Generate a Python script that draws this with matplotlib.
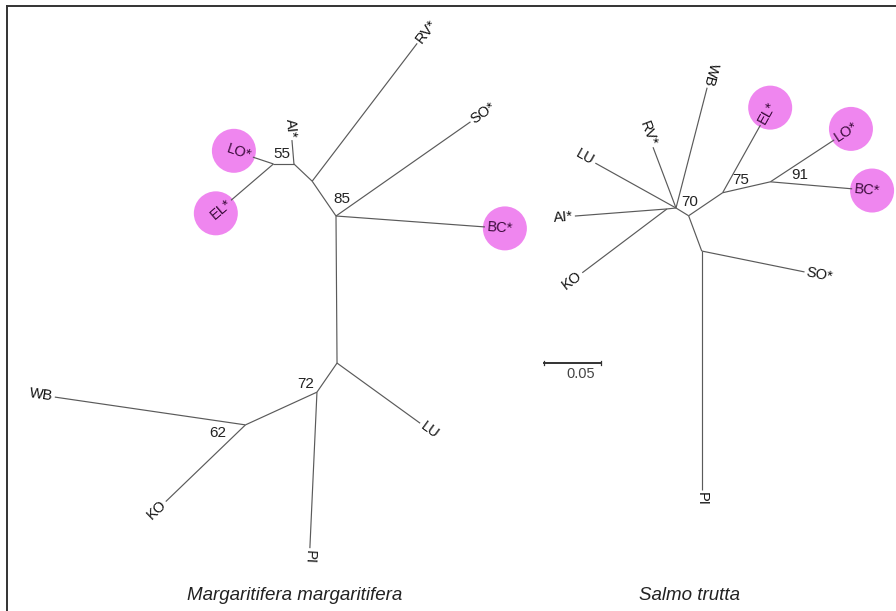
import numpy as np
import matplotlib
matplotlib.use("Agg")
import matplotlib.pyplot as plt
from matplotlib.patches import Circle
from matplotlib.lines import Line2D

plt.rcParams['font.family'] = ['Liberation Sans', 'DejaVu Sans']

# ---------------- data ----------------
# Margaritifera margaritifera tree (unrooted): parent, child, branch length, angle (deg)
mm_parent = ['A', 'A', 'A', 'B', 'B', 'C', 'C', 'D', 'D', 'A', 'E', 'E', 'F', 'F', 'G', 'G']
mm_child = ['BC*', 'SO*', 'B', 'RV*', 'C', 'AI*', 'D', 'LO*', 'EL*', 'E', 'LU', 'F', 'PI', 'G', 'WB', 'KO']
mm_length = [0.131, 0.144, 0.037, 0.152, 0.022, 0.021, 0.018, 0.019, 0.049,
             0.129, 0.090, 0.031, 0.137, 0.069, 0.169, 0.097]
mm_angle = [-4.2, 35.0, 124.4, 52.7, 136.6, 94.8, 180.0, 161.6, 220.6,
            -89.6, -35.9, -124.6, -92.6, 204.6, 171.7, 223.9]
mm_support_nodes = ['D', 'A', 'F', 'G']
mm_support_values = [55, 85, 72, 62]

# Salmo trutta tree
st_parent = ['H', 'H', 'H', 'H', 'I', 'I', 'H', 'J', 'K', 'K', 'M', 'M', 'J', 'L', 'L']
st_child = ['LU', 'RV*', 'WB', 'I', 'AI*', 'KO', 'J', 'K', 'EL*', 'M', 'LO*', 'BC*', 'L', 'SO*', 'PI']
st_length = [0.081, 0.057, 0.109, 0.008, 0.081, 0.093, 0.013, 0.036, 0.068,
             0.043, 0.067, 0.072, 0.033, 0.092, 0.210]
st_angle = [150.9, 110.7, 75.5, 186.0, 184.4, 217.0, -31.6, 34.1, 60.8,
            12.9, 33.3, -4.9, -69.6, -11.5, -90.0]
st_support_nodes = ['H', 'K', 'M']
st_support_values = [70, 75, 91]

highlighted = ['LO*', 'EL*', 'BC*']
scale_value = 0.05
titles = ['Margaritifera margaritifera', 'Salmo trutta']

# ---------------- layout ----------------
W, H = 896, 611
PX = 1140.0  # pixels per tree unit
fig = plt.figure(figsize=(W / 100, H / 100), dpi=100)
ax = fig.add_axes([0, 0, 1, 1])
ax.set_xlim(0, W / PX)
ax.set_ylim(0, H / PX)
ax.set_aspect('equal')
ax.axis('off')


def px(x, y):
    return x / PX, (H - y) / PX


LINE_C = '#5a5a5a'
circle_c = '#ef86ef'


def draw_tree(root_xy, parents, children, lengths, angles, sup_nodes, sup_vals, sup_off):
    pos = {parents[0]: np.array(root_xy)}
    for p, c, l, a in zip(parents, children, lengths, angles):
        r = np.deg2rad(a)
        d = np.array([np.cos(r), np.sin(r)])
        p0 = pos[p]
        p1 = p0 + l * d
        pos[c] = p1
        ax.plot([p0[0], p1[0]], [p0[1], p1[1]], color=LINE_C, lw=0.85,
                solid_capstyle='butt', zorder=2)
        if c in parents:
            continue
        am = a % 360
        flip = 70 < am < 265
        rot = am - 180 if flip else a
        gap = 2 / PX
        tp = p1 + gap * d
        tc = '#111111'
        if c in highlighted:
            cc = p1 + (20 / PX) * d
            ax.add_patch(Circle(cc, 22 / PX, color=circle_c, zorder=1, lw=0))
            tc = '#3a0a3a'
        ax.text(tp[0], tp[1], c, rotation=rot, rotation_mode='anchor',
                ha='right' if flip else 'left', va='center', fontsize=10.5,
                color=tc, zorder=3)
    for n, v, off in zip(sup_nodes, sup_vals, sup_off):
        q = pos[n] + np.array(off) / PX
        ax.text(q[0], q[1], str(v), ha='center', va='center', fontsize=11,
                color='#222222', zorder=3)
    return pos


draw_tree(px(336, 216), mm_parent, mm_child, mm_length, mm_angle,
          mm_support_nodes, mm_support_values,
          [(8, 10), (6, 17), (-11, 8), (-28, -8)])
draw_tree(px(676, 208), st_parent, st_child, st_length, st_angle,
          st_support_nodes, st_support_values,
          [(14, 6), (18, 13), (29, 7)])

# scale bar
sx, sy = px(544, 363)
ax.plot([sx, sx + scale_value], [sy, sy], color='#333333', lw=1.4)
for xx in (sx, sx + scale_value):
    ax.plot([xx, xx], [sy - 2 / PX, sy + 2 / PX], color='#333333', lw=0.9)
lx, ly = px(581, 374)
ax.text(lx, ly, f'{scale_value:.2f}', ha='center', va='center', fontsize=10.5, color='#444444')

# titles
for t, (tx, ty) in zip(titles, [(295, 596), (689, 596)]):
    qx, qy = px(tx, ty)
    ax.text(qx, qy, t, ha='center', va='center', fontsize=13.5, style='italic', color='#222222')

# frame (left and top)
fig.add_artist(Line2D([7 / W, 7 / W], [0, 1 - 6 / H], color='#333333', lw=1.4))
fig.add_artist(Line2D([7 / W, 1], [1 - 6 / H, 1 - 6 / H], color='#333333', lw=1.4))

fig.savefig('out.png', dpi=100, facecolor='white')
